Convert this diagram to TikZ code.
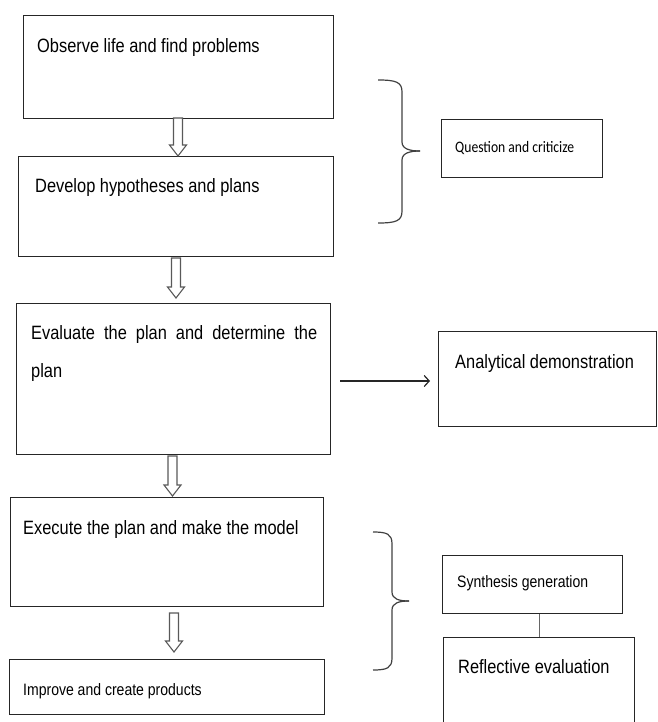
\documentclass[tikz,border=0pt]{standalone}
\usepackage{fontspec}
\setmainfont{Liberation Sans}[FakeStretch=0.85]
\newfontfamily\calfont{Carlito}[FakeStretch=0.85]
\usetikzlibrary{arrows.meta}
\newcommand\harrow[3]{\draw[hollow] (#1-4.5,#2) -- (#1-4.5,#3-11) -- (#1-8.5,#3-11) -- (#1,#3) -- (#1+8.5,#3-11) -- (#1+4.5,#3-11) -- (#1+4.5,#2) -- cycle;}
\begin{document}
\begin{tikzpicture}[x=1pt,y=-1pt,
 box/.style={draw=black!85,line width=1.2pt,inner sep=0pt,anchor=north west},
 txt/.style={inner sep=0pt,anchor=base west,font=\fontsize{19.3}{23}\selectfont},
 smalltxt/.style={inner sep=0pt,anchor=base west,font=\fontsize{16.5}{20}\selectfont},
 qtxt/.style={inner sep=0pt,anchor=base west,font=\calfont\fontsize{16}{19}\selectfont},
 hollow/.style={draw=black!65,line width=1.1pt,fill=white},
 brace/.style={draw=black!75,line width=1.2pt},
 conn/.style={draw=black!85,line width=1.2pt}
]
\useasboundingbox (0,0) rectangle (657,722);
\clip (0,0) rectangle (657,722);
% left column boxes
\node[box,minimum width=310pt,minimum height=103pt] (b1) at (23,15) {};
\node[box,minimum width=315pt,minimum height=100pt] (b2) at (18,156) {};
\node[box,minimum width=314pt,minimum height=151pt] (b3) at (16,303) {};
\node[box,minimum width=313pt,minimum height=109pt] (b4) at (10,497) {};
\node[box,minimum width=315pt,minimum height=55pt] (b5) at (9,659) {};
% right boxes
\node[box,minimum width=161pt,minimum height=58pt] (qb) at (441,119) {};
\node[box,minimum width=218pt,minimum height=95pt] (ab) at (438,331) {};
\node[box,minimum width=180pt,minimum height=58pt] (sb) at (442,555) {};
\node[box,minimum width=191pt,minimum height=110pt] (rb) at (443,637) {};
% texts
\node[txt] (t1) at (37,53) {Observe life and find problems};
\node[txt] (t2) at (35,193) {Develop hypotheses and plans};
\node[txt] (t3) at (31,339) {\makebox[286pt][s]{Evaluate the plan and determine the}};
\node[txt] (t3b) at (31,377) {plan};
\node[txt] (t4) at (23,534) {Execute the plan and make the model};
\node[smalltxt] (t5) at (23,695) {Improve and create products};
\node[qtxt] (tq) at (455,153) {Question and criticize};
\node[txt] (ta) at (455,368) {Analytical demonstration};
\node[smalltxt] (ts) at (457,587) {Synthesis generation};
\node[txt] (tr) at (458,673) {Reflective evaluation};
% hollow arrows
\harrow{178}{118}{156}
\harrow{176}{258}{298}
\harrow{172.5}{456}{496}
\harrow{174}{613}{652}
% connectors
\coordinate (arS) at (340,381);
\draw[conn,-{Straight Barb[length=5pt,width=11pt]},shorten >=8pt] (arS) -- (arS -| ab.west);
\draw[conn,draw=black!60] (rb.north |- sb.south) -- (rb.north);
% braces
\draw[brace] (378,80) .. controls (396,80) and (402,82) .. (402,92) -- (402,142) .. controls (402,149) and (410,151) .. (420,151);
\draw[brace] (420,151) .. controls (410,151) and (402,153) .. (402,160) -- (402,211) .. controls (402,221) and (396,223) .. (378,223);
\draw[brace] (373,532) .. controls (387,532) and (392,534) .. (392,544) -- (392,592) .. controls (392,599) and (399,601) .. (409,601);
\draw[brace] (409,601) .. controls (399,601) and (392,603) .. (392,610) -- (392,658) .. controls (392,668) and (387,670) .. (373,670);
\end{tikzpicture}
\end{document}
